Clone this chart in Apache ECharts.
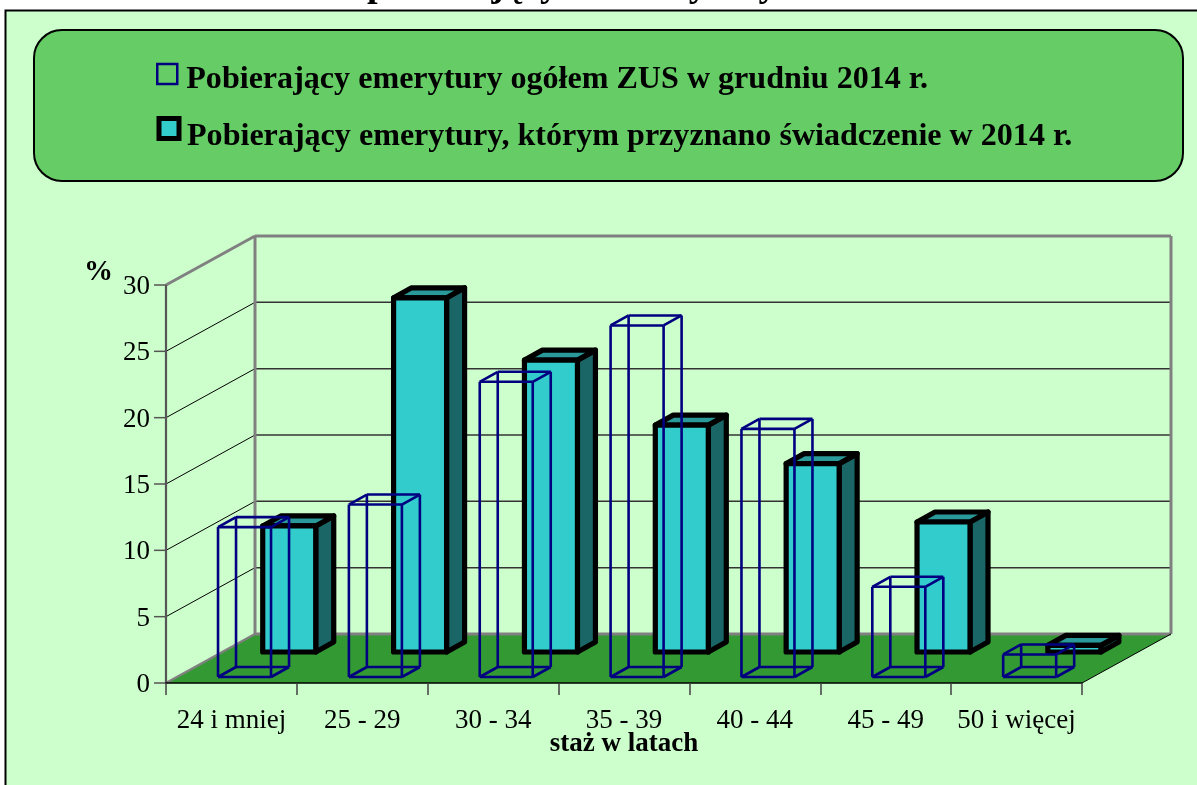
<!DOCTYPE html>
<html>
<head>
<meta charset="utf-8">
<style>html,body{margin:0;padding:0;background:#fff;overflow:hidden}#c{width:1197px;height:785px}</style>
<script src="https://cdn.jsdelivr.net/npm/echarts@6/dist/echarts.min.js"></script>
</head>
<body>
<div id="c"></div>
<script>
const categories = ['24 i mniej','25 - 29','30 - 34','35 - 39','40 - 44','45 - 49','50 i więcej'];
const ogolem = [11.3, 13.0, 22.25, 26.5, 18.7, 6.8, 1.7];
const przyznane = [9.5, 26.7, 22.0, 17.1, 14.2, 9.8, 0.5];
const yTicks = [0, 5, 10, 15, 20, 25, 30];
const nameOgolem = 'Pobierający emerytury ogółem ZUS w grudniu 2014 r.';
const namePrzyznane = 'Pobierający emerytury, którym przyznano świadczenie w 2014 r.';

const serif = '"Liberation Serif","Times New Roman",serif';
const DEPTH_X = 89, DEPTH_Y = 49, BAR_W = 53, BAR_DX = 18, BAR_DY = 10;
const chart = echarts.init(document.getElementById('c'), null, {renderer:'canvas', width:1197, height:785});

function line(x1,y1,x2,y2,stroke,lineWidth){
  return {type:'line', shape:{x1,y1,x2,y2}, style:{stroke,lineWidth,fill:null}, silent:true};
}
function poly(points,style){ return {type:'polygon', shape:{points}, style, silent:true}; }

function renderWalls(params, api){
  const g = params.coordSys;
  const L = g.x, R = g.x + g.width;
  const y0 = api.coord([0,0])[1];
  const yTop = api.coord([0,yTicks[yTicks.length-1]])[1];
  const bL = L + DEPTH_X, bR = R + DEPTH_X;
  const ch = [];
  ch.push(poly([[L,y0],[bL,y0-DEPTH_Y],[bR,y0-DEPTH_Y],[R,y0]], {fill:'#339933'}));
  yTicks.slice(1,-1).forEach(v=>{
    const y = api.coord([0,v])[1];
    ch.push(line(L,y,bL,y-DEPTH_Y,'#000',1));
    ch.push(line(bL,y-DEPTH_Y,bR,y-DEPTH_Y,'#333',1.5));
  });
  const gray = '#808080';
  ch.push(line(L,yTop,bL,yTop-DEPTH_Y,gray,3));
  ch.push(line(bL,yTop-DEPTH_Y,bR,yTop-DEPTH_Y,gray,3));
  ch.push(line(bR,yTop-DEPTH_Y,bR,y0-DEPTH_Y,gray,3));
  ch.push(line(bL,yTop-DEPTH_Y,bL,y0-DEPTH_Y,gray,3));
  ch.push(line(bL,y0-DEPTH_Y,bR,y0-DEPTH_Y,gray,3));
  ch.push(line(L,y0,bL,y0-DEPTH_Y,gray,2.5));
  ch.push(line(R,y0,bR,y0-DEPTH_Y,'#000',1));
  // value-axis line and ticks
  ch.push(line(L,yTop,L,y0,'#555',2.2));
  yTicks.forEach(v=>{
    const y = api.coord([0,v])[1];
    ch.push(line(L-12,y,L,y,'#555',1.5));
  });
  return {type:'group', children:ch};
}

function barCorners(api, shiftX, shiftY){
  const top = api.coord([api.value(0), api.value(1)]);
  const base = api.coord([api.value(0), 0]);
  const x = top[0] + shiftX, yb = base[1] - shiftY, yt = top[1] - shiftY;
  return {x, xr:x+BAR_W, yb, yt};
}
function renderSolid(params, api){
  const {x,xr,yb,yt} = barCorners(api, 31.3, 31);
  const st = {stroke:'#000', lineWidth:5.2, lineJoin:'round'};
  return {type:'group', children:[
    poly([[xr,yt],[xr+BAR_DX,yt-BAR_DY],[xr+BAR_DX,yb-BAR_DY],[xr,yb]], {fill:'#1A6666',...st}),
    poly([[x,yt],[x+BAR_DX,yt-BAR_DY],[xr+BAR_DX,yt-BAR_DY],[xr,yt]], {fill:'#299999',...st}),
    poly([[x,yt],[xr,yt],[xr,yb],[x,yb]], {fill:'#33CCCC',...st})
  ]};
}
function renderWire(params, api){
  const {x,xr,yb,yt} = barCorners(api, -13.4, 6);
  const s = '#000080', w = 2.6, d = BAR_DX, e = BAR_DY;
  const edges = [
    [x,yt,xr,yt],[xr,yt,xr,yb],[xr,yb,x,yb],[x,yb,x,yt],
    [x+d,yt-e,xr+d,yt-e],[xr+d,yt-e,xr+d,yb-e],[xr+d,yb-e,x+d,yb-e],[x+d,yb-e,x+d,yt-e],
    [x,yt,x+d,yt-e],[xr,yt,xr+d,yt-e],[xr,yb,xr+d,yb-e],[x,yb,x+d,yb-e]
  ];
  return {type:'group', children:edges.map(a=>line(a[0],a[1],a[2],a[3],s,w))};
}

const legendBase = {orient:'vertical', itemWidth:20, itemHeight:20, selectedMode:false, z:6, formatter:'{t|{name}}'};
const legendText = (p,l) => ({rich:{t:{fontFamily:serif, fontWeight:'bold', fontSize:32.1, color:'#000', lineHeight:30, padding:[p,0,0,l]}}});

chart.setOption({
  animation:false,
  backgroundColor:'#fff',
  textStyle:{fontFamily:serif},
  grid:{left:166, top:285, width:916, height:398, containLabel:false},
  legend:[
    {...legendBase, left:151, top:47.5, textStyle:legendText(11,4),
     data:[{name:nameOgolem, icon:'rect', itemStyle:{color:'transparent', borderColor:'#000080', borderWidth:2.5}}]},
    {...legendBase, left:151.5, top:99, textStyle:legendText(17,3),
     data:[{name:namePrzyznane, icon:'rect', itemStyle:{color:'#33CCCC', borderColor:'#000', borderWidth:5}}]}
  ],
  xAxis:{
    type:'category', data:categories, z:4,
    name:'staż w latach', nameLocation:'middle', nameGap:48, nameMoveOverlap:false,
    nameTextStyle:{fontFamily:serif, fontWeight:'bold', fontSize:27, color:'#000'},
    axisLine:{show:true, lineStyle:{color:'#000', width:1.5}},
    axisTick:{show:true, length:12, alignWithLabel:false, lineStyle:{color:'#404040', width:1.5}},
    axisLabel:{interval:0, margin:24, fontFamily:serif, fontSize:27, color:'#000'},
    splitLine:{show:false}
  },
  yAxis:{
    type:'value', min:0, max:30, interval:5, z:4,
    axisLine:{show:false},
    axisTick:{show:false},
    axisLabel:{margin:16, formatter:'{v|{value}}', rich:{v:{fontFamily:serif, fontSize:27, color:'#000', padding:[4,0,0,0]}}},
    splitLine:{show:false}
  },
  series:[
    {type:'custom', name:'walls', z:1, silent:true, coordinateSystem:'cartesian2d', data:[[0,0]], renderItem:renderWalls, clip:false},
    {type:'custom', name:namePrzyznane, z:2, coordinateSystem:'cartesian2d', itemStyle:{color:'#33CCCC'},
      data:przyznane.map((v,i)=>[i,v]), renderItem:renderSolid, clip:false},
    {type:'custom', name:nameOgolem, z:3, coordinateSystem:'cartesian2d', itemStyle:{color:'#000080'},
      data:ogolem.map((v,i)=>[i,v]), renderItem:renderWire, clip:false}
  ],
  graphic:{elements:[
    {type:'rect', z:-3, silent:true, shape:{x:5.5,y:10.5,width:1300,height:900}, style:{fill:'#CCFFCC', stroke:'#000', lineWidth:2}},
    {type:'rect', z:-2, silent:true, shape:{x:34,y:30,width:1149,height:151,r:28}, style:{fill:'#66CC66', stroke:'#000', lineWidth:2}},
    {type:'text', z:5, silent:true, style:{x:98.5, y:273, text:'%', align:'center', verticalAlign:'middle', font:'bold 29px '+serif, fill:'#000'}},
    {type:'text', z:5, silent:true, style:{x:367, y:-33, text:'pobierających emerytury', align:'left', verticalAlign:'top', font:'bold 38px '+serif, fill:'#000'}}
  ]}
});
</script>
</body>
</html>
